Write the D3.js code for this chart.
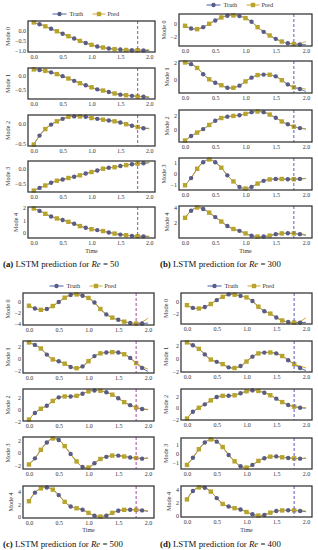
<!DOCTYPE html>
<html><head><meta charset="utf-8">
<script src="https://cdn.jsdelivr.net/npm/d3@7/dist/d3.min.js"></script>
<style>body{margin:0;background:#fff}svg{display:block}</style>
</head><body>
<svg id="chart" width="318" height="550"></svg>
<script>
// ---------- data ----------
const times = [0.0,0.1,0.2,0.3,0.4,0.5,0.6,0.7,0.8,0.9,1.0,1.1,1.2,1.3,1.4,1.5,1.6,1.7,1.8,1.9,2.0];
const xTicks = [0.0, 0.5, 1.0, 1.5, 2.0];
const predStart = 1.8;
const modeNames = ["Mode 0","Mode 1","Mode 2","Mode 3","Mode 4"];
const panelLetters = ["a","b","c","d"];
const reynolds = ["50","300","500","400"];
const seriesNames = ["Truth","Pred"];

// Panel (a) Re = 50
const truthA0 = [0.38,0.29,0.19,0.07,-0.05,-0.17,-0.29,-0.40,-0.52,-0.62,-0.71,-0.79,-0.84,-0.89,-0.92,-0.94,-0.96,-0.97,-0.97,-0.98,-0.99];
const predA0  = [0.38,0.29,0.19,0.07,-0.05,-0.17,-0.29,-0.40,-0.52,-0.62,-0.71,-0.79,-0.84,-0.89,-0.92,-0.94,-0.96,-0.97,-0.97,-0.96,-0.94];
const truthA1 = [0.20,0.18,0.15,0.10,0.04,-0.03,-0.11,-0.19,-0.27,-0.34,-0.41,-0.48,-0.52,-0.57,-0.62,-0.66,-0.68,-0.70,-0.72,-0.73,-0.76];
const predA1  = [0.20,0.18,0.15,0.10,0.04,-0.03,-0.11,-0.19,-0.27,-0.34,-0.41,-0.48,-0.52,-0.57,-0.62,-0.66,-0.68,-0.70,-0.72,-0.72,-0.73];
const truthA2 = [-0.52,-0.30,-0.14,-0.03,0.05,0.11,0.16,0.17,0.17,0.16,0.13,0.11,0.09,0.07,0.05,0.02,-0.02,-0.06,-0.09,-0.12,-0.13];
const predA2  = [-0.52,-0.30,-0.14,-0.03,0.05,0.11,0.16,0.17,0.17,0.16,0.13,0.11,0.09,0.07,0.05,0.02,-0.02,-0.06,-0.09,-0.11,-0.12];
const truthA3 = [-0.74,-0.65,-0.57,-0.48,-0.41,-0.37,-0.32,-0.28,-0.23,-0.17,-0.12,-0.07,-0.01,0.02,0.04,0.08,0.11,0.14,0.16,0.17,0.19];
const predA3  = [-0.74,-0.65,-0.57,-0.48,-0.41,-0.37,-0.32,-0.28,-0.23,-0.17,-0.12,-0.07,-0.01,0.02,0.04,0.08,0.11,0.14,0.16,0.18,0.20];
const truthA4 = [1.95,1.75,1.52,1.30,1.15,1.02,0.88,0.72,0.54,0.40,0.29,0.22,0.14,0.03,-0.06,-0.14,-0.19,-0.24,-0.27,-0.28,-0.30];
const predA4  = [1.95,1.75,1.52,1.30,1.15,1.02,0.88,0.72,0.54,0.40,0.29,0.22,0.14,0.03,-0.06,-0.14,-0.19,-0.24,-0.27,-0.26,-0.27];
const yTicksA = [[0.0,-0.5,-1.0],[0.0,-0.5],[0.0,-0.5],[0.0,-0.5],[0,1,2]];

// Panel (b) Re = 300
const truthB0 = [-0.40,-0.80,-0.90,-0.60,-0.10,0.40,0.85,1.10,1.15,1.05,0.75,0.20,-0.60,-1.30,-1.85,-2.35,-2.75,-3.00,-3.12,-3.18,-3.20];
const predB0  = [-0.40,-0.80,-0.90,-0.60,-0.10,0.40,0.85,1.10,1.15,1.05,0.75,0.20,-0.60,-1.30,-1.85,-2.35,-2.75,-3.00,-3.12,-3.05,-2.75];
const truthB1 = [2.00,1.80,1.35,0.60,0.00,-0.40,-0.70,-1.00,-1.00,-0.75,-0.25,0.20,0.50,0.56,0.54,0.35,-0.10,-0.60,-0.95,-1.15,-1.45];
const predB1  = [2.00,1.80,1.35,0.60,0.00,-0.40,-0.70,-1.00,-1.00,-0.75,-0.25,0.20,0.50,0.56,0.54,0.35,-0.10,-0.60,-0.95,-1.05,-1.15];
const truthB2 = [-1.55,-0.90,-0.40,0.10,0.70,1.30,1.70,1.90,2.00,2.10,2.30,2.55,2.65,2.55,2.20,1.75,1.20,0.80,0.45,0.25,0.10];
const predB2  = [-1.55,-0.90,-0.40,0.10,0.70,1.30,1.70,1.90,2.00,2.10,2.30,2.55,2.65,2.55,2.20,1.75,1.20,0.80,0.45,0.28,0.15];
const truthB3 = [-1.05,-0.40,0.45,1.05,1.30,1.05,0.55,-0.15,-0.70,-1.20,-1.35,-1.20,-0.90,-0.65,-0.52,-0.48,-0.48,-0.50,-0.50,-0.47,-0.42];
const predB3  = [-1.05,-0.40,0.45,1.05,1.30,1.05,0.55,-0.15,-0.70,-1.20,-1.35,-1.20,-0.90,-0.65,-0.52,-0.48,-0.48,-0.50,-0.50,-0.48,-0.44];
const truthB4 = [2.60,3.55,4.00,3.80,3.30,2.70,2.10,1.50,1.10,0.85,0.50,0.20,0.08,0.08,0.20,0.40,0.50,0.52,0.50,0.40,0.25];
const predB4  = [2.60,3.55,4.00,3.80,3.30,2.70,2.10,1.50,1.10,0.85,0.50,0.20,0.08,0.08,0.20,0.40,0.50,0.52,0.50,0.45,0.35];
const yTicksB = [[0,-2],[2,0],[2,0],[1,0,-1],[4,2]];

// Panel (c) Re = 500
const truthC0 = [-0.70,-1.20,-1.45,-1.30,-0.75,0.00,0.80,1.30,1.40,1.15,0.75,-0.10,-1.30,-2.30,-2.90,-3.30,-3.65,-3.90,-4.00,-4.00,-3.90];
const predC0  = [-0.70,-1.20,-1.45,-1.30,-0.75,0.00,0.80,1.30,1.40,1.15,0.75,-0.10,-1.30,-2.30,-2.90,-3.30,-3.65,-3.90,-4.00,-3.70,-3.00];
const truthC1 = [2.70,2.30,1.70,0.70,-0.10,-0.40,-0.80,-1.35,-1.55,-1.25,-0.40,0.45,0.90,1.05,1.10,1.05,0.75,0.15,-0.70,-1.50,-2.10];
const predC1  = [2.70,2.30,1.70,0.70,-0.10,-0.40,-0.80,-1.35,-1.55,-1.25,-0.40,0.45,0.90,1.05,1.10,1.05,0.75,0.15,-0.70,-1.30,-1.70];
const truthC2 = [-1.70,-0.60,0.10,0.60,1.40,2.00,2.15,2.15,2.25,2.60,3.00,3.15,3.10,2.85,2.45,1.85,1.20,0.70,0.30,0.05,-0.05];
const predC2  = [-1.70,-0.60,0.10,0.60,1.40,2.00,2.15,2.15,2.25,2.60,3.00,3.15,3.10,2.85,2.45,1.85,1.20,0.70,0.30,0.10,0.00];
const truthC3 = [-1.90,-0.90,0.50,1.70,2.35,2.10,1.10,-0.20,-1.40,-2.30,-2.40,-1.70,-1.00,-0.65,-0.45,-0.45,-0.60,-0.75,-0.85,-0.95,-0.85];
const predC3  = [-1.90,-0.90,0.50,1.70,2.35,2.10,1.10,-0.20,-1.40,-2.30,-2.40,-1.70,-1.00,-0.65,-0.45,-0.45,-0.60,-0.75,-0.85,-0.90,-0.85];
const truthC4 = [2.50,3.90,4.60,4.75,4.40,3.50,2.40,1.65,1.35,1.10,0.60,0.15,0.00,0.15,0.60,0.95,1.10,1.12,1.10,1.00,0.85];
const predC4  = [2.50,3.90,4.60,4.75,4.40,3.50,2.40,1.65,1.35,1.10,0.60,0.15,0.00,0.15,0.60,0.95,1.10,1.12,1.10,1.05,0.95];
const yTicksC = [[0,-2,-4],[2,0,-2],[2,0,-2],[2,0,-2],[4,2,0]];

// Panel (d) Re = 400
const truthD0 = [-0.60,-1.05,-1.15,-0.90,-0.40,0.25,0.80,1.20,1.15,0.95,0.70,0.10,-0.85,-1.60,-2.00,-2.65,-3.15,-3.40,-3.50,-3.50,-3.45];
const predD0  = [-0.60,-1.05,-1.15,-0.90,-0.40,0.25,0.80,1.20,1.15,0.95,0.70,0.10,-0.85,-1.60,-2.00,-2.65,-3.15,-3.40,-3.50,-3.30,-2.70];
const truthD1 = [2.45,2.00,1.45,0.60,-0.20,-0.55,-0.90,-1.40,-1.50,-1.20,-0.50,0.25,0.75,0.88,0.90,0.75,0.35,-0.30,-0.90,-1.50,-1.90];
const predD1  = [2.45,2.00,1.45,0.60,-0.20,-0.55,-0.90,-1.40,-1.50,-1.20,-0.50,0.25,0.75,0.88,0.90,0.75,0.35,-0.30,-0.90,-1.20,-1.50];
const truthD2 = [-1.90,-0.70,0.00,0.60,1.30,1.90,2.10,2.10,2.20,2.55,2.90,3.05,2.95,2.65,2.20,1.60,1.00,0.50,0.20,0.00,-0.05];
const predD2  = [-1.90,-0.70,0.00,0.60,1.30,1.90,2.10,2.10,2.20,2.55,2.90,3.05,2.95,2.65,2.20,1.60,1.00,0.50,0.20,0.05,0.00];
const truthD3 = [-1.30,-0.50,0.45,1.20,1.55,1.30,0.70,-0.20,-0.90,-1.45,-1.60,-1.30,-0.85,-0.55,-0.38,-0.35,-0.45,-0.52,-0.57,-0.60,-0.55];
const predD3  = [-1.30,-0.50,0.45,1.20,1.55,1.30,0.70,-0.20,-0.90,-1.45,-1.60,-1.30,-0.85,-0.55,-0.38,-0.35,-0.45,-0.52,-0.57,-0.58,-0.55];
const truthD4 = [2.50,3.80,4.35,4.30,3.70,2.70,1.80,1.40,1.15,0.95,0.55,0.20,0.00,0.10,0.45,0.70,0.80,0.82,0.80,0.72,0.60];
const predD4  = [2.50,3.80,4.35,4.30,3.70,2.70,1.80,1.40,1.15,0.95,0.55,0.20,0.00,0.10,0.45,0.70,0.80,0.82,0.80,0.78,0.70];
const yTicksD = [[0,-2],[2,0,-2],[2,0,-2],[1,0,-1],[4,2,0]];

const truthSets = [[truthA0,truthA1,truthA2,truthA3,truthA4],[truthB0,truthB1,truthB2,truthB3,truthB4],
                   [truthC0,truthC1,truthC2,truthC3,truthC4],[truthD0,truthD1,truthD2,truthD3,truthD4]];
const predSets  = [[predA0,predA1,predA2,predA3,predA4],[predB0,predB1,predB2,predB3,predB4],
                   [predC0,predC1,predC2,predC3,predC4],[predD0,predD1,predD2,predD3,predD4]];
const yTickSets = [yTicksA,yTicksB,yTicksC,yTicksD];

// ---------- layout / style ----------
const layouts = [
  {x0:28,  x1:155, tops:[21,68,115,161,207], h:31, legendY:14,  captionX:3,   captionY:267, timeY:253, vline:"#a44aa6"},
  {x0:179, x1:312, tops:[14,61,110,158,206], h:32, legendY:5,   captionX:160, captionY:267, timeY:253, vline:"#5b5bbf"},
  {x0:23,  x1:154, tops:[293,341,389,437,486], h:32, legendY:286, captionX:3,   captionY:547, timeY:532, vline:"#a44aa6"},
  {x0:181, x1:312, tops:[293,341,389,438,486], h:31, legendY:286, captionX:160, captionY:547, timeY:532, vline:"#5b5bbf"}
];
const FONT = "'Liberation Serif','DejaVu Serif',serif";
const truthLine = "#4062ad", predLine = "#d3a524";
const truthMark = "#595c87", predMark = "#b6a42e";
const frameCol = "#3a3a3a";

const svg = d3.select("#chart");
const fmt1 = d3.format(".1f");
const minus = s => s.replace("-", "\u2212");

panelLetters.forEach((letter, p) => {
  const L = layouts[p];
  const g = svg.append("g");
  const x = d3.scaleLinear().domain([-0.1, 2.1]).range([L.x0, L.x1]);

  modeNames.forEach((mName, m) => {
    const truth = truthSets[p][m], pred = predSets[p][m];
    const all = truth.concat(pred);
    const lo = d3.min(all), hi = d3.max(all), pad = (hi - lo) * 0.05;
    const top = L.tops[m], bot = top + L.h;
    const y = d3.scaleLinear().domain([lo - pad, hi + pad]).range([bot, top]);
    const yt = yTickSets[p][m];
    const isDec = yt.some(v => !Number.isInteger(v));
    const sg = g.append("g");

    // lines
    const line = d3.line().x(d => x(d[0])).y(d => y(d[1])).curve(d3.curveCatmullRom.alpha(0.5));
    sg.append("path").datum(times.map((t,i)=>[t,truth[i]]))
      .attr("d", line).attr("fill","none").attr("stroke",truthLine).attr("stroke-width",1);
    sg.append("path").datum(times.map((t,i)=>[t,pred[i]]))
      .attr("d", line).attr("fill","none").attr("stroke",predLine).attr("stroke-width",1);

    // markers: truth circles at odd samples, pred squares at even samples
    const idx = d3.range(times.length - 1);
    sg.selectAll("circle.t").data(idx.filter(i => i % 2 === 1)).join("circle")
      .attr("cx", i => x(times[i])).attr("cy", i => y(truth[i])).attr("r", 2.2)
      .attr("fill", truthMark);
    sg.selectAll("rect.p").data(idx.filter(i => i % 2 === 0)).join("rect")
      .attr("x", i => x(times[i]) - 2.2).attr("y", i => y(pred[i]) - 2.2)
      .attr("width", 4.4).attr("height", 4.4).attr("fill", predMark);

    // dashed forecast boundary
    sg.append("line").attr("x1", x(predStart)).attr("x2", x(predStart))
      .attr("y1", top).attr("y2", bot)
      .attr("stroke", L.vline).attr("stroke-width", 1).attr("stroke-dasharray", "3,2");

    // frame
    sg.append("rect").attr("x", L.x0).attr("y", top).attr("width", L.x1 - L.x0).attr("height", L.h)
      .attr("fill","none").attr("stroke",frameCol).attr("stroke-width",1.3);

    // axes
    const xa = sg.append("g").attr("transform", `translate(0,${bot})`)
      .call(d3.axisBottom(x).tickValues(xTicks).tickSize(0).tickPadding(3).tickFormat(fmt1));
    xa.select(".domain").remove();
    xa.selectAll("text").attr("font-family", FONT).attr("font-size", 6).attr("fill", "#333");

    const ya = sg.append("g").attr("transform", `translate(${L.x0},0)`)
      .call(d3.axisLeft(y).tickValues(yt).tickSize(0).tickPadding(2)
        .tickFormat(v => minus(isDec ? fmt1(v) : d3.format("d")(v))));
    ya.select(".domain").remove();
    ya.selectAll("text").attr("font-family", FONT).attr("font-size", 6).attr("fill", "#333");
    let maxW = 0;
    ya.selectAll("text").each(function(){ maxW = Math.max(maxW, this.getComputedTextLength()); });

    sg.append("text").attr("transform", `translate(${L.x0 - 2 - maxW - 5},${(top+bot)/2}) rotate(-90)`)
      .attr("text-anchor","middle").attr("font-family",FONT).attr("font-size",6.2).attr("fill","#333")
      .text(mName);
  });

  // x label
  g.append("text").attr("x", (L.x0 + L.x1)/2).attr("y", L.timeY).attr("text-anchor","middle")
    .attr("font-family",FONT).attr("font-size",6).attr("fill","#333").text("Time");

  // legend
  const c = (L.x0 + L.x1)/2, ly = L.legendY;
  const lg = g.append("g");
  lg.append("line").attr("x1", c-39).attr("x2", c-25).attr("y1", ly).attr("y2", ly)
    .attr("stroke", truthLine).attr("stroke-width", 1);
  lg.append("circle").attr("cx", c-32).attr("cy", ly).attr("r", 2.2).attr("fill", truthMark);
  lg.append("text").attr("x", c-22).attr("y", ly+2).attr("font-family",FONT).attr("font-size",6.3)
    .attr("fill","#333").text(seriesNames[0]);
  lg.append("line").attr("x1", c+1).attr("x2", c+14).attr("y1", ly).attr("y2", ly)
    .attr("stroke", predLine).attr("stroke-width", 1);
  lg.append("rect").attr("x", c+7.5-2.2).attr("y", ly-2.2).attr("width",4.4).attr("height",4.4).attr("fill", predMark);
  lg.append("text").attr("x", c+16).attr("y", ly+2).attr("font-family",FONT).attr("font-size",6.3)
    .attr("fill","#333").text(seriesNames[1]);

  // caption
  const cap = g.append("text").attr("x", L.captionX).attr("y", L.captionY)
    .attr("font-family", FONT).attr("font-size", 8.8).attr("fill", "#111");
  cap.append("tspan").attr("font-weight","bold").text(`(${letter})`);
  cap.append("tspan").text(" LSTM prediction for ");
  cap.append("tspan").attr("font-style","italic").text("Re");
  cap.append("tspan").text(` = ${reynolds[p]}`);
});
</script>
</body></html>
